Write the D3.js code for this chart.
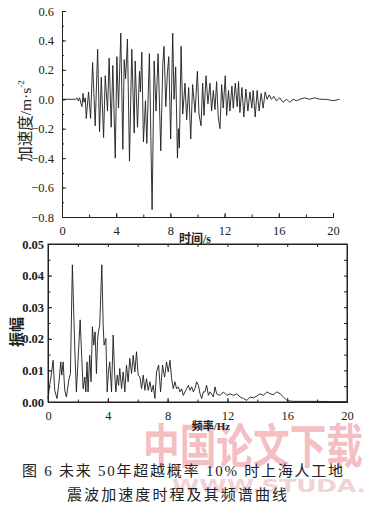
<!DOCTYPE html>
<html>
<head>
<meta charset="utf-8">
<script src="https://cdn.jsdelivr.net/npm/d3@7"></script>
<style>
  body { margin: 0; background: #fff; }
  svg { display: block; }
</style>
</head>
<body>
<svg id="chart" width="369" height="506"></svg>
<script>
// acceleration time history (s, m/s^2)
const timeS = [0, 1.0, 1.1, 1.2, 1.3, 1.4, 1.48, 1.55, 1.62, 1.72,
  1.79, 1.96, 2.11, 2.26, 2.45, 2.63, 2.77, 2.90, 3.07, 3.19,
  3.36, 3.48, 3.63, 3.75, 3.93, 4.05, 4.17, 4.34, 4.49, 4.59,
  4.69, 4.76, 4.83, 4.98, 5.15, 5.33, 5.40, 5.57, 5.72, 5.79,
  5.89, 6.01, 6.16, 6.26, 6.45, 6.65, 6.80, 6.94, 7.09, 7.29,
  7.44, 7.53, 7.66, 7.78, 7.88, 8.02, 8.17, 8.27, 8.39, 8.52,
  8.59, 8.66, 8.79, 8.91, 9.08, 9.20, 9.35, 9.50, 9.64, 9.82,
  9.99, 10.11, 10.26, 10.38, 10.48, 10.63, 10.77, 10.92, 11.04, 11.17,
  11.29, 11.41, 11.53, 11.66, 11.78, 11.90, 12.05, 12.15, 12.29, 12.39,
  12.54, 12.64, 12.79, 12.93, 13.03, 13.13, 13.28, 13.42, 13.57, 13.72,
  13.87, 14.01, 14.11, 14.26, 14.40, 14.55, 14.70, 14.85, 14.99, 15.14,
  15.29, 15.46, 15.63, 15.83, 16.07, 16.32, 16.56, 16.81, 17.06, 17.30,
  17.55, 17.91, 18.28, 18.65, 19.02, 19.51, 20.0, 20.49];
const accel = [0, 0, 0.01, -0.01, 0.01, -0.03, -0.05, 0.04, -0.02, 0.01,
  -0.13, 0.05, -0.13, 0.25, -0.18, 0.34, -0.22, 0.15, -0.26, 0.16,
  -0.08, 0.28, -0.19, 0.23, -0.40, 0.29, -0.06, 0.45, -0.34, 0.27,
  0.14, 0.26, 0.41, -0.42, 0.34, -0.23, 0.26, -0.19, 0.19, 0.05,
  0.32, -0.29, -0.01, -0.30, 0.31, -0.75, 0.26, -0.08, 0.31, -0.35,
  0.24, 0.36, -0.05, 0.18, 0.29, -0.27, 0.45, 0.00, 0.22, -0.40,
  -0.20, -0.33, 0.36, -0.10, 0.11, -0.14, 0.08, -0.27, 0.10, -0.09,
  0.19, -0.10, -0.18, 0.11, -0.11, 0.16, -0.03, 0.11, -0.08, 0.06,
  -0.07, 0.12, -0.12, -0.20, 0.10, -0.06, 0.16, -0.11, 0.06, -0.08,
  0.09, -0.06, 0.11, -0.05, 0.12, -0.09, 0.08, -0.12, 0.07, -0.08,
  0.05, -0.06, 0.06, -0.12, 0.06, -0.08, 0.04, -0.06, 0.05, 0.00,
  0.03, 0.00, 0.02, -0.01, 0.01, -0.02, 0.00, -0.02, 0.00, -0.01,
  0.00, 0.01, 0.00, 0.01, 0.00, 0.00, -0.01, 0.00];

// Fourier amplitude spectrum (Hz, amplitude)
const freqHz = [0, 0.11, 0.22, 0.34, 0.45, 0.60, 0.74, 0.85, 0.92, 1.01,
  1.12, 1.23, 1.39, 1.50, 1.63, 1.79, 1.90, 2.01, 2.15, 2.26,
  2.35, 2.46, 2.53, 2.61, 2.68, 2.79, 2.88, 2.97, 3.06, 3.15,
  3.24, 3.31, 3.37, 3.46, 3.60, 3.69, 3.75, 3.87, 3.96, 4.04,
  4.13, 4.25, 4.36, 4.45, 4.54, 4.63, 4.72, 4.80, 4.92, 5.03,
  5.14, 5.25, 5.36, 5.47, 5.59, 5.70, 5.81, 5.92, 6.03, 6.15,
  6.26, 6.37, 6.48, 6.59, 6.70, 6.82, 6.93, 7.04, 7.15, 7.26,
  7.40, 7.53, 7.66, 7.80, 7.93, 8.04, 8.16, 8.27, 8.38, 8.49,
  8.60, 8.72, 8.83, 8.94, 9.05, 9.16, 9.27, 9.39, 9.50, 9.61,
  9.72, 9.83, 9.94, 10.06, 10.17, 10.28, 10.39, 10.50, 10.61, 10.73,
  10.84, 11.06, 11.17, 11.28, 11.51, 11.73, 11.96, 12.18, 12.40, 12.63,
  12.85, 13.07, 13.30, 13.52, 13.74, 13.97, 14.19, 14.41, 14.64, 14.86,
  15.08, 15.31, 15.53, 15.75, 15.98, 16.20, 16.42, 16.87, 17.99, 19.11,
  20.0];
const amp = [0.0011, 0.0053, 0.0085, 0.0132, 0.0037, 0.0011, 0.0064, 0.0127, 0.0085, 0.0127,
  0.0037, 0.0016, 0.0069, 0.0090, 0.0434, 0.0169, 0.0032, 0.0132, 0.0260, 0.0138,
  0.0042, 0.0079, 0.0032, 0.0127, 0.0032, 0.0148, 0.0064, 0.0238, 0.0180, 0.0222,
  0.0090, 0.0191, 0.0222, 0.0244, 0.0434, 0.0244, 0.0180, 0.0201, 0.0032, 0.0095,
  0.0127, 0.0032, 0.0212, 0.0095, 0.0032, 0.0085, 0.0053, 0.0106, 0.0042, 0.0095,
  0.0032, 0.0117, 0.0064, 0.0138, 0.0090, 0.0148, 0.0095, 0.0159, 0.0085, 0.0079,
  0.0042, 0.0085, 0.0037, 0.0074, 0.0037, 0.0064, 0.0032, 0.0053, 0.0011, 0.0095,
  0.0117, 0.0032, 0.0117, 0.0079, 0.0127, 0.0095, 0.0132, 0.0074, 0.0042, 0.0064,
  0.0042, 0.0048, 0.0032, 0.0042, 0.0021, 0.0032, 0.0042, 0.0053, 0.0037, 0.0048,
  0.0032, 0.0042, 0.0064, 0.0053, 0.0026, 0.0011, 0.0032, 0.0032, 0.0053, 0.0021,
  0.0032, 0.0016, 0.0048, 0.0026, 0.0021, 0.0032, 0.0021, 0.0026, 0.0021, 0.0026,
  0.0016, 0.0011, 0.0005, 0.0016, 0.0013, 0.0019, 0.0026, 0.0021, 0.0032, 0.0026,
  0.0023, 0.0032, 0.0026, 0.0016, 0.0005, 0.0003, 0.0002, 0.0002, 0.0002, 0.0001,
  0.0001];

const timeTicks = [0, 4, 8, 12, 16, 20];
const accelTicks = [0.6, 0.4, 0.2, 0.0, -0.2, -0.4, -0.6, -0.8];
const freqTicks = [0, 4, 8, 12, 16, 20];
const ampTicks = [0, 0.01, 0.02, 0.03, 0.04, 0.05];

const serif = "Liberation Serif, Times New Roman, DejaVu Serif, serif";
const cjk = "Liberation Serif, Noto Sans CJK SC, sans-serif";

const svg = d3.select("#chart");
const ink = "#1c1c1c";

// ---------- site watermark (faint, sits behind everything) ----------
svg.append("text")
  .attr("transform", "translate(143,463) scale(1,1.3)")
  .attr("font-family", "Noto Sans CJK SC")
  .attr("font-weight", "bold")
  .attr("font-size", 36)
  .attr("textLength", 220)
  .attr("lengthAdjust", "spacingAndGlyphs")
  .attr("fill", "#f2a9b0")
  .attr("opacity", 0.75)
  .text("中国论文下载");
svg.append("text")
  .attr("x", 172).attr("y", 492)
  .attr("font-family", "DejaVu Sans")
  .attr("font-weight", "bold")
  .attr("font-size", 18)
  .attr("textLength", 194)
  .attr("lengthAdjust", "spacingAndGlyphs")
  .attr("fill", "#e8b5ba")
  .attr("opacity", 0.6)
  .text("WWW.STUDA.");

// ---------- upper plot: acceleration time history ----------
const x1 = d3.scaleLinear().domain([0, 20]).range([62, 333]);
const y1 = d3.scaleLinear().domain([-0.8, 0.6]).range([217, 11]);

const g1 = svg.append("g");

// minor ticks first, no labels
g1.append("g")
  .attr("transform", "translate(0,217)")
  .call(d3.axisBottom(x1).tickValues(d3.range(0, 21, 2)).tickSize(-2.5).tickFormat(""));
g1.append("g")
  .attr("transform", "translate(62,0)")
  .call(d3.axisLeft(y1).tickValues(d3.range(-0.8, 0.61, 0.1)).tickSize(-2).tickFormat(""));

const xAxis1 = g1.append("g")
  .attr("transform", "translate(0,217)")
  .call(d3.axisBottom(x1).tickValues(timeTicks).tickSize(-4).tickPadding(9).tickFormat(d3.format("d")));
const yAxis1 = g1.append("g")
  .attr("transform", "translate(62,0)")
  .call(d3.axisLeft(y1).tickValues(accelTicks).tickSize(-4).tickPadding(8).tickFormat(d3.format(".1f")));

[xAxis1, yAxis1].forEach(a => {
  a.attr("font-family", serif).attr("font-size", 12.5);
  a.selectAll("text").attr("fill", "#222").style("font-family", serif);
});
g1.selectAll("path.domain, .tick line").attr("stroke", "#222");

const line1 = d3.line()
  .x((d, i) => x1(timeS[i]))
  .y(d => y1(d));

g1.append("path")
  .datum(accel)
  .attr("fill", "none")
  .attr("stroke", ink)
  .attr("stroke-width", 0.9)
  .attr("stroke-linejoin", "round")
  .attr("d", line1);

// y label
g1.append("text")
  .style("font-family", cjk)
  .attr("transform", "translate(31,121) rotate(-90)")
  .attr("text-anchor", "middle")
  .attr("font-size", 15.5)
  .attr("fill", "#222")
  .text("加速度/m·s")
  .append("tspan")
  .attr("dy", -7)
  .attr("font-size", 9)
  .text("-2");

// x label
g1.append("text")
  .style("font-family", cjk)
  .attr("x", 195).attr("y", 243)
  .attr("text-anchor", "middle")
  .attr("font-size", 12)
  .attr("font-weight", "bold")
  .attr("fill", "#222")
  .text("时间/s");

// ---------- lower plot: amplitude spectrum ----------
const x2 = d3.scaleLinear().domain([0, 20]).range([48, 347]);
const y2 = d3.scaleLinear().domain([0, 0.05]).range([402, 244]);

const g2 = svg.append("g");

g2.append("rect")
  .attr("x", 48).attr("y", 244)
  .attr("width", 299).attr("height", 158)
  .attr("fill", "none").attr("stroke", "#222").attr("stroke-width", 1);

// inward ticks on all four sides
g2.append("g").attr("transform", "translate(0,402)")
  .call(d3.axisBottom(x2).tickValues(d3.range(0, 21, 2)).tickSize(-2.5).tickFormat(""));
g2.append("g").attr("transform", "translate(0,244)")
  .call(d3.axisTop(x2).tickValues(d3.range(0, 21, 2)).tickSize(-3).tickFormat(""));
g2.append("g").attr("transform", "translate(48,0)")
  .call(d3.axisLeft(y2).tickValues(d3.range(0, 0.051, 0.005)).tickSize(-2.5).tickFormat(""));
g2.append("g").attr("transform", "translate(347,0)")
  .call(d3.axisRight(y2).tickValues(d3.range(0, 0.051, 0.005)).tickSize(-3).tickFormat(""));

const xAxis2 = g2.append("g").attr("transform", "translate(0,402)")
  .call(d3.axisBottom(x2).tickValues(freqTicks).tickSize(-4).tickPadding(9).tickFormat(d3.format("d")));
const yAxis2 = g2.append("g").attr("transform", "translate(48,0)")
  .call(d3.axisLeft(y2).tickValues(ampTicks).tickSize(-4).tickPadding(4).tickFormat(d3.format(".2f")));

[xAxis2, yAxis2].forEach(a => {
  a.attr("font-family", serif).attr("font-size", 12.5);
  a.selectAll("text").attr("fill", "#222").style("font-family", serif);
});
yAxis2.selectAll("text").attr("font-weight", "bold");
g2.selectAll("path.domain, .tick line").attr("stroke", "#222");

const line2 = d3.line()
  .x((d, i) => x2(freqHz[i]))
  .y(d => y2(d));

g2.append("path")
  .datum(amp)
  .attr("fill", "none")
  .attr("stroke", ink)
  .attr("stroke-width", 0.9)
  .attr("stroke-linejoin", "round")
  .attr("d", line2);

g2.append("text")
  .style("font-family", cjk)
  .attr("transform", "translate(22,332) rotate(-90)")
  .attr("text-anchor", "middle")
  .attr("font-size", 15)
  .attr("font-weight", "bold")
  .attr("fill", "#222")
  .text("振幅");

g2.append("text")
  .style("font-family", cjk)
  .attr("x", 211).attr("y", 430)
  .attr("text-anchor", "middle")
  .attr("font-size", 11)
  .attr("font-weight", "bold")
  .attr("fill", "#222")
  .text("频率/Hz");

// ---------- caption ----------
const cap = svg.append("g").style("font-family", cjk).attr("fill", "#222");
cap.append("text")
  .attr("x", 22).attr("y", 476)
  .attr("font-size", 15)
  .attr("textLength", 321)
  .attr("lengthAdjust", "spacing")
  .text("图 6  未来 50年超越概率 10% 时上海人工地");
cap.append("text")
  .attr("x", 67).attr("y", 500)
  .attr("font-size", 15)
  .attr("textLength", 220)
  .attr("lengthAdjust", "spacing")
  .text("震波加速度时程及其频谱曲线");
</script>
</body>
</html>
